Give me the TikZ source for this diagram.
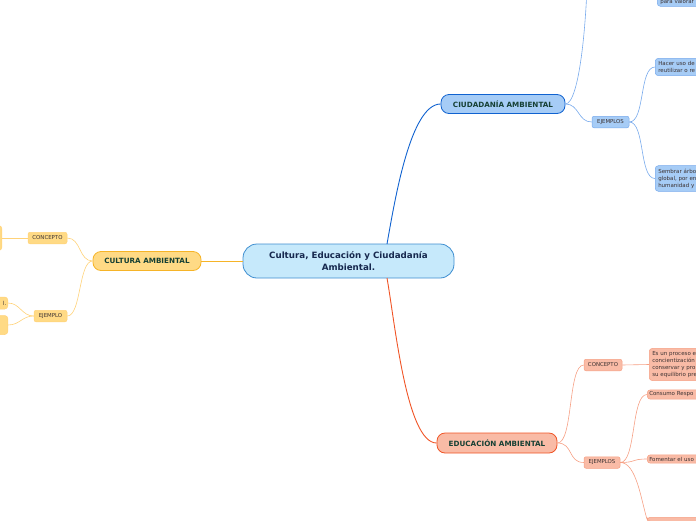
\documentclass[tikz,border=0pt]{standalone}
\usepackage{fontspec}
\setmainfont{DejaVu Sans}
\usepackage{xcolor}
\usetikzlibrary{positioning,calc}
\definecolor{centralfill}{RGB}{198, 233, 251}
\definecolor{centralline}{RGB}{62, 142, 208}
\definecolor{titlenavy}{RGB}{22, 40, 78}
\definecolor{branchtext}{RGB}{22, 64, 52}
\definecolor{leaftext}{RGB}{60, 50, 50}
\definecolor{culturafill}{RGB}{255, 218, 133}
\definecolor{culturaline}{RGB}{246, 180, 40}
\definecolor{culturalight}{RGB}{255, 210, 120}
\definecolor{ciudadfill}{RGB}{166, 204, 246}
\definecolor{ciudadline}{RGB}{16, 98, 208}
\definecolor{ciudadlight}{RGB}{120, 170, 236}
\definecolor{educafill}{RGB}{249, 187, 166}
\definecolor{educaline}{RGB}{240, 84, 38}
\definecolor{educalight}{RGB}{246, 160, 132}

\begin{document}
\begin{tikzpicture}[x=1pt, y=-1pt,
    central/.style={draw=centralline, fill=centralfill, line width=0.8pt, rounded corners=14pt,
        minimum width=211pt, minimum height=34pt, inner sep=0pt, align=center,
        font=\fontsize{8.7}{11.5}\selectfont\bfseries, text=titlenavy},
    branch/.style={line width=0.8pt, rounded corners=8pt, minimum height=19pt, inner sep=0pt,
        font=\fontsize{7.2}{8.4}\selectfont\bfseries, text=branchtext},
    sub/.style={line width=0.5pt, rounded corners=2pt, minimum height=11.5pt, inner sep=0pt,
        font=\fontsize{5.4}{6.2}\selectfont, text=leaftext},
    leaf/.style={line width=0.5pt, rounded corners=3pt, inner sep=3pt, align=left, anchor=west,
        text width=70pt, font=\fontsize{5.5}{7}\selectfont, text=leaftext},
    link/.style={line width=0.6pt}
]
    \useasboundingbox (0,0) rectangle (696,520);
    \clip (0,0) rectangle (696,520);

    % Central topic
    \node[central] (centro) at (348.5,261) {Cultura, Educación y Ciudadanía\\Ambiental.};

    % Main branches
    \node[branch, draw=culturaline, fill=culturafill, minimum width=108pt] (cultura) at (147,261) {CULTURA AMBIENTAL};
    \node[branch, draw=ciudadline, fill=ciudadfill, minimum width=124pt] (ciudad) at (503,104) {CIUDADANÍA AMBIENTAL};
    \node[branch, draw=educaline, fill=educafill, minimum width=120pt, minimum height=20pt] (educa) at (497,443) {EDUCACIÓN AMBIENTAL};

    % Cultura ambiental
    \node[sub, draw=culturalight, fill=culturafill, minimum width=39pt] (cconcepto) at (47.5,238) {CONCEPTO};
    \node[sub, draw=culturalight, fill=culturafill, minimum width=33pt] (cejemplo) at (50.5,316) {EJEMPLO};
    \node[leaf, draw=culturalight, fill=culturafill, anchor=east, text width=40pt, minimum height=25pt] (cleafa) at (2,238) {};
    \node[leaf, draw=culturalight, fill=culturafill, anchor=east, align=right, text width=40pt, minimum height=12pt, inner sep=1.5pt] (cleafb) at (8,303) {l.};
    \node[leaf, draw=culturalight, fill=culturafill, anchor=east, text width=40pt, minimum height=19pt] (cleafc) at (8,325) {};

    % Ciudadania ambiental
    \coordinate (cconceptoarriba) at (588,-60);
    \node[sub, draw=ciudadlight, fill=ciudadfill, minimum width=37pt] (dejemplos) at (610.5,122) {EJEMPLOS};
    \node[leaf, draw=ciudadlight, fill=ciudadfill, anchor=south west, text height=16pt, text depth=1.2pt, inner ysep=1.2pt] (dleafa) at (657,6.5) {para valorar};
    \node[leaf, draw=ciudadlight, fill=ciudadfill] (dleafb) at (655,67) {Hacer uso de\\reutilizar o re};
    \node[leaf, draw=ciudadlight, fill=ciudadfill] (dleafc) at (655,178.5) {Sembrar árbo\\global, por en\\humanidad y};

    % Educacion ambiental
    \node[sub, draw=educalight, fill=educafill, minimum width=38pt] (econcepto) at (603,365) {CONCEPTO};
    \node[sub, draw=educalight, fill=educafill, minimum width=36pt] (eejemplos) at (602,462.5) {EJEMPLOS};
    \node[leaf, draw=educalight, fill=educafill] (eleafa) at (649,364.5) {Es un proceso e\\concientización\\conservar y pro\\su equilibrio pre};
    \node[leaf, draw=educalight, fill=educafill, inner sep=2pt] (eleafb) at (647,394.5) {Consumo Respo};
    \node[leaf, draw=educalight, fill=educafill, inner sep=2pt] (eleafc) at (647,459) {Fomentar el uso};
    \node[leaf, draw=educalight, fill=educafill, inner sep=2pt, anchor=north west] (eleafd) at (647,517) {};

    % Connectors from the central topic
    \draw[link, line width=0.9pt, color=culturaline] (centro.west) -- (cultura.east);
    \draw[link, line width=0.9pt, color=ciudadline] (387,244) .. controls +(8,-45) and +(-30,0) .. (ciudad.west);
    \draw[link, line width=0.9pt, color=educaline] (387,278) .. controls +(8,45) and +(-30,0) .. (educa.west);

    % Connectors of cultura ambiental
    \draw[link, color=culturalight] (cultura.west) .. controls +(-14,0) and +(14,0) .. (cconcepto.east);
    \draw[link, color=culturalight] (cultura.west) .. controls +(-14,0) and +(14,0) .. (cejemplo.east);
    \draw[link, color=culturalight] (cconcepto.west) -- (cleafa.east);
    \draw[link, color=culturalight] (cejemplo.west) .. controls +(-12,0) and +(12,0) .. (cleafb.east);
    \draw[link, color=culturalight] (cejemplo.west) .. controls +(-12,0) and +(12,0) .. (cleafc.east);

    % Connectors of ciudadania ambiental
    \draw[link, color=ciudadlight] (ciudad.east) .. controls +(14,0) and +(0,80) .. (cconceptoarriba);
    \draw[link, color=ciudadlight] (ciudad.east) .. controls +(14,0) and +(-14,0) .. (dejemplos.west);
    \draw[link, color=ciudadlight] (dejemplos.east) .. controls +(16,0) and +(-16,0) .. (dleafb.west);
    \draw[link, color=ciudadlight] (dejemplos.east) .. controls +(16,0) and +(-16,0) .. (dleafc.west);

    % Connectors of educacion ambiental
    \draw[link, color=educalight] (educa.east) .. controls +(16,0) and +(-16,0) .. (econcepto.west);
    \draw[link, color=educalight] (educa.east) .. controls +(16,0) and +(-16,0) .. (eejemplos.west);
    \draw[link, color=educalight] (econcepto.east) -- (eleafa.west);
    \draw[link, color=educalight] (eejemplos.east) .. controls +(16,0) and +(-16,0) .. (eleafb.west);
    \draw[link, color=educalight] (eejemplos.east) .. controls +(16,0) and +(-16,0) .. (eleafc.west);
    \draw[link, color=educalight] (eejemplos.east) .. controls +(16,0) and +(-6,-20) .. (eleafd.west);
\end{tikzpicture}
\end{document}
